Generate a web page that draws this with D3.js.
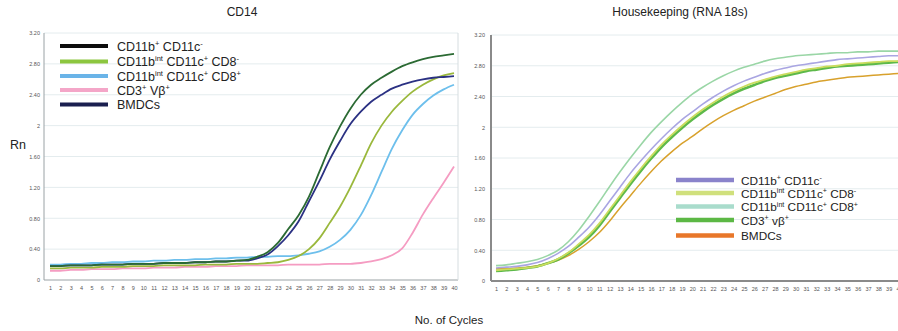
<!DOCTYPE html>
<html>
<head>
<meta charset="utf-8">
<script src="https://cdn.jsdelivr.net/npm/d3@7"></script>
<style>
body { margin: 0; background: #fff; }
svg { font-family: "Liberation Sans", Arial, sans-serif; }
</style>
</head>
<body>
<svg width="898" height="331"></svg>
<script>
var svg = d3.select("svg");

// cycles 1..40
var cycles = d3.range(1, 41);
var yTicks = [0, 0.4, 0.8, 1.2, 1.6, 2, 2.4, 2.8, 3.2];

// ---- CD14 panel ----
var cd14Names = [
    [["CD11b"], ["+", 1], [" CD11c"], ["-", 1]],
    [["CD11b"], ["int", 1], [" CD11c"], ["+", 1], [" CD8"], ["-", 1]],
    [["CD11b"], ["int", 1], [" CD11c"], ["+", 1], [" CD8"], ["+", 1]],
    [["CD3"], ["+", 1], [" V\u03b2"], ["+", 1]],
    [["BMDCs"]]
];
var cd14LineColors = ["#2b6a33", "#9ab83c", "#6dbfec", "#f59cc2", "#2b3183"];
var cd14KeyColors = ["#0d0d0d", "#8cc63f", "#6ab4e8", "#f4a6c8", "#1b1f4f"];

var cd14_b = [0.18, 0.18, 0.19, 0.19, 0.19, 0.20, 0.20, 0.20, 0.21, 0.21, 0.21, 0.22, 0.22, 0.22, 0.23, 0.23, 0.24, 0.24, 0.25, 0.26,
              0.30, 0.36, 0.48, 0.66, 0.84, 1.08, 1.40, 1.72, 1.99, 2.22, 2.40, 2.53, 2.62, 2.70, 2.77, 2.82, 2.86, 2.89, 2.91, 2.93];
var cd14_int8neg = [0.15, 0.15, 0.16, 0.16, 0.16, 0.17, 0.17, 0.17, 0.18, 0.18, 0.18, 0.19, 0.19, 0.19, 0.19, 0.20, 0.20, 0.20, 0.21, 0.21,
                    0.21, 0.22, 0.23, 0.26, 0.31, 0.40, 0.54, 0.74, 0.95, 1.20, 1.48, 1.77, 2.00, 2.18, 2.32, 2.44, 2.53, 2.60, 2.65, 2.68];
var cd14_int8pos = [0.20, 0.20, 0.21, 0.21, 0.22, 0.22, 0.23, 0.23, 0.24, 0.24, 0.25, 0.25, 0.26, 0.26, 0.27, 0.27, 0.28, 0.28, 0.29, 0.29,
                    0.30, 0.30, 0.31, 0.31, 0.32, 0.34, 0.37, 0.43, 0.52, 0.65, 0.84, 1.10, 1.40, 1.70, 1.94, 2.14, 2.28, 2.39, 2.47, 2.53];
var cd14_cd3 = [0.12, 0.12, 0.13, 0.13, 0.14, 0.14, 0.14, 0.15, 0.15, 0.15, 0.16, 0.16, 0.16, 0.17, 0.17, 0.17, 0.18, 0.18, 0.18, 0.19,
                0.19, 0.19, 0.19, 0.20, 0.20, 0.20, 0.20, 0.21, 0.21, 0.21, 0.22, 0.24, 0.27, 0.32, 0.41, 0.61, 0.85, 1.06, 1.26, 1.47];
var cd14_bmdc = [0.18, 0.18, 0.19, 0.19, 0.19, 0.20, 0.20, 0.20, 0.21, 0.21, 0.21, 0.22, 0.22, 0.22, 0.23, 0.23, 0.24, 0.24, 0.25, 0.25,
                 0.28, 0.33, 0.44, 0.58, 0.76, 1.02, 1.28, 1.56, 1.80, 2.02, 2.18, 2.31, 2.40, 2.48, 2.53, 2.57, 2.60, 2.62, 2.63, 2.64];
var cd14Series = [cd14_b, cd14_int8neg, cd14_int8pos, cd14_cd3, cd14_bmdc];
// drawing order: pink, blue, olive, navy, dark green on top
var cd14Order = [3, 2, 1, 4, 0];

// ---- Housekeeping panel ----
var hkNames = [
    [["CD11b"], ["+", 1], [" CD11c"], ["-", 1]],
    [["CD11b"], ["int", 1], [" CD11c"], ["+", 1], [" CD8"], ["-", 1]],
    [["CD11b"], ["int", 1], [" CD11c"], ["+", 1], [" CD8"], ["+", 1]],
    [["CD3"], ["+", 1], [" v\u03b2"], ["+", 1]],
    [["BMDCs"]]
];
var hkLineColors = ["#a9a5e2", "#cadc5e", "#9ad6a6", "#5db94a", "#d8a12c"];
var hkKeyColors = ["#8a83cb", "#d0e07c", "#a9dccc", "#5cb845", "#e8772a"];
var hkWidths = [1.6, 1.8, 1.6, 2.6, 1.5];

var hk_b = [0.17, 0.18, 0.19, 0.21, 0.24, 0.29, 0.36, 0.45, 0.57, 0.70, 0.86, 1.04, 1.22, 1.40, 1.56, 1.71, 1.85, 1.98, 2.10, 2.20,
            2.30, 2.39, 2.47, 2.54, 2.60, 2.65, 2.70, 2.74, 2.77, 2.80, 2.82, 2.84, 2.86, 2.88, 2.89, 2.90, 2.91, 2.92, 2.93, 2.93];
var hk_int8neg = [0.14, 0.15, 0.16, 0.17, 0.19, 0.23, 0.29, 0.37, 0.48, 0.60, 0.75, 0.93, 1.11, 1.29, 1.46, 1.62, 1.77, 1.90, 2.02, 2.13,
                  2.23, 2.32, 2.40, 2.47, 2.53, 2.58, 2.62, 2.66, 2.69, 2.72, 2.75, 2.77, 2.79, 2.80, 2.82, 2.83, 2.84, 2.85, 2.86, 2.86];
var hk_int8pos = [0.20, 0.21, 0.23, 0.25, 0.28, 0.33, 0.40, 0.51, 0.66, 0.84, 1.03, 1.23, 1.42, 1.60, 1.77, 1.93, 2.07, 2.20, 2.32, 2.43,
                  2.52, 2.60, 2.67, 2.73, 2.78, 2.82, 2.86, 2.89, 2.91, 2.93, 2.94, 2.95, 2.96, 2.97, 2.97, 2.98, 2.98, 2.99, 2.99, 2.99];
var hk_cd3 = [0.13, 0.14, 0.15, 0.17, 0.19, 0.23, 0.28, 0.36, 0.46, 0.57, 0.72, 0.90, 1.08, 1.26, 1.43, 1.59, 1.74, 1.87, 1.99, 2.10,
              2.20, 2.29, 2.37, 2.44, 2.50, 2.55, 2.60, 2.64, 2.67, 2.70, 2.73, 2.75, 2.77, 2.79, 2.80, 2.81, 2.82, 2.83, 2.84, 2.85];
var hk_bmdc = [0.16, 0.16, 0.17, 0.18, 0.20, 0.23, 0.27, 0.33, 0.41, 0.51, 0.63, 0.78, 0.95, 1.11, 1.27, 1.42, 1.56, 1.68, 1.79, 1.88,
               1.98, 2.07, 2.15, 2.22, 2.28, 2.34, 2.39, 2.44, 2.49, 2.53, 2.56, 2.59, 2.61, 2.63, 2.65, 2.66, 2.67, 2.68, 2.69, 2.70];
var hkSeries = [hk_b, hk_int8neg, hk_int8pos, hk_cd3, hk_bmdc];
var hkOrder = [4, 3, 1, 0, 2];

var fmtY = function (d) {
    if (d === 0 || d === 2) return String(d);
    return d.toFixed(2);
};

// legend label with superscripts
var writeLabel = function (sel, parts, size) {
    var up = size * 0.38;
    parts.forEach(function (p, i) {
        var t = sel.append("tspan").text(p[0]);
        var prevSup = i > 0 && parts[i - 1][1];
        if (p[1]) {
            t.attr("font-size", size * 0.6);
            if (!prevSup) t.attr("dy", -up);
        } else if (prevSup) {
            t.attr("dy", up);
        }
    });
};

var drawPanel = function (opt) {
    var x = d3.scaleLinear().domain([1, 40]).range(opt.xr);
    var y = d3.scaleLinear().domain([0, 3.2]).range(opt.yr);
    var g = svg.append("g");

    // horizontal grid
    g.selectAll("line.grid").data(yTicks.slice(1)).enter()
        .append("line")
        .attr("x1", opt.left).attr("x2", opt.right)
        .attr("y1", function (d) { return y(d); })
        .attr("y2", function (d) { return y(d); })
        .attr("stroke", "#e4ecee").attr("stroke-width", 1);

    var ya = g.append("g")
        .attr("transform", "translate(" + opt.left + ",0)")
        .call(d3.axisLeft(y).tickValues(yTicks).tickFormat(fmtY).tickSize(0).tickPadding(opt.ypad));
    ya.select(".domain").remove();
    ya.selectAll("text").attr("font-size", 5.5).attr("fill", "#555").attr("font-family", "Liberation Sans, Arial, sans-serif");

    var xa = g.append("g")
        .attr("transform", "translate(0," + opt.yr[0] + ")")
        .call(d3.axisBottom(x).tickValues(cycles).tickFormat(d3.format("d")).tickSize(0).tickPadding(6));
    xa.select(".domain").remove();
    xa.selectAll("text").attr("font-size", 5.5).attr("fill", "#555").attr("font-family", "Liberation Sans, Arial, sans-serif");

    // frame
    g.append("line").attr("x1", opt.left).attr("x2", opt.left)
        .attr("y1", y(3.2)).attr("y2", opt.yr[0])
        .attr("stroke", opt.axisColor).attr("stroke-width", opt.axisWidth);
    g.append("line").attr("x1", opt.left).attr("x2", opt.right)
        .attr("y1", opt.yr[0]).attr("y2", opt.yr[0])
        .attr("stroke", opt.axisColor).attr("stroke-width", opt.axisWidth);
    if (opt.frameRight) {
        g.append("line").attr("x1", opt.right).attr("x2", opt.right)
            .attr("y1", y(3.2)).attr("y2", opt.yr[0])
            .attr("stroke", "#d6dde0").attr("stroke-width", 1);
    }

    // curves
    var line = d3.line()
        .x(function (d, i) { return x(cycles[i]); })
        .y(function (d) { return y(d); })
        .curve(d3.curveMonotoneX);
    opt.order.forEach(function (k) {
        g.append("path")
            .attr("d", line(opt.series[k]))
            .attr("fill", "none")
            .attr("stroke", opt.lineColors[k])
            .attr("stroke-width", opt.widths[k]);
    });

    svg.append("text")
        .text(opt.title)
        .attr("x", opt.titleX).attr("y", 16)
        .attr("text-anchor", "middle")
        .attr("font-size", 12).attr("fill", "#222");

    // legend
    opt.names.forEach(function (parts, i) {
        var ly = opt.legY[i];
        svg.append("line")
            .attr("x1", opt.legX).attr("x2", opt.legX + opt.legLen)
            .attr("y1", ly).attr("y2", ly)
            .attr("stroke", opt.keyColors[i]).attr("stroke-width", opt.keyWidth);
        var t = svg.append("text")
            .attr("x", opt.legX + opt.legLen + opt.legGap).attr("y", ly + 4.5)
            .attr("font-size", opt.legSize).attr("fill", "#222");
        writeLabel(t, parts, opt.legSize);
    });
};

drawPanel({
    title: "CD14", titleX: 242,
    xr: [50, 454], yr: [280, 33], left: 44, right: 458, ypad: 4,
    axisColor: "#9aa2a5", axisWidth: 1, frameRight: true,
    series: cd14Series, order: cd14Order, lineColors: cd14LineColors,
    widths: [1.8, 1.8, 1.8, 1.8, 1.8],
    names: cd14Names, keyColors: cd14KeyColors,
    legX: 60, legLen: 48, legGap: 9, legY: [46, 61.5, 76, 90, 104.5], legSize: 12.5, keyWidth: 4
});

drawPanel({
    title: "Housekeeping (RNA 18s)", titleX: 680,
    xr: [496, 899], yr: [281, 35], left: 491, right: 905, ypad: 6,
    axisColor: "#8a8a8a", axisWidth: 2, frameRight: false,
    series: hkSeries, order: hkOrder, lineColors: hkLineColors, widths: hkWidths,
    names: hkNames, keyColors: hkKeyColors,
    legX: 676, legLen: 58, legGap: 7, legY: [180, 193, 206.5, 220, 235.5], legSize: 11.8, keyWidth: 4.5
});

svg.append("text")
    .text("Rn")
    .attr("x", 18).attr("y", 149)
    .attr("text-anchor", "middle")
    .attr("font-size", 12.5).attr("fill", "#222");

svg.append("text")
    .text("No. of Cycles")
    .attr("x", 449).attr("y", 324)
    .attr("text-anchor", "middle")
    .attr("font-size", 11.5).attr("fill", "#222");
</script>
</body>
</html>
